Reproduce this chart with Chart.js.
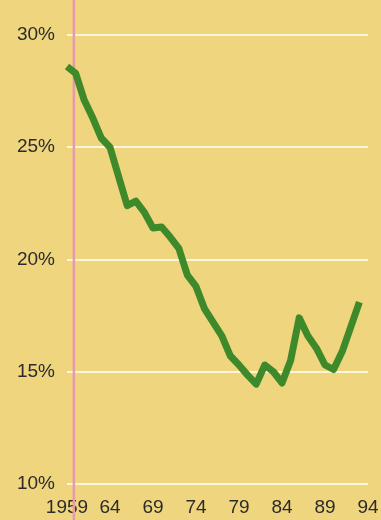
<!DOCTYPE html>
<html>
<head>
<meta charset="utf-8">
<script src="https://cdn.jsdelivr.net/npm/chart.js@4"></script>
<style>
  html,body{margin:0;padding:0;background:#EED57E;}
  #wrap{width:381px;height:520px;position:relative;}
</style>
</head>
<body>
<div id="wrap"><canvas id="c" width="381" height="520"></canvas></div>
<script>
const years = [1959,1960,1961,1962,1963,1964,1965,1966,1967,1968,1969,1970,1971,1972,1973,1974,1975,1976,1977,1978,1979,1980,1981,1982,1983,1984,1985,1986,1987,1988,1989,1990,1991,1992,1993];
const rates = [28.6,28.3,27.1,26.3,25.4,25.0,23.7,22.4,22.6,22.1,21.4,21.45,21.0,20.5,19.3,18.8,17.8,17.2,16.6,15.7,15.3,14.85,14.45,15.3,15.0,14.5,15.5,17.4,16.6,16.05,15.3,15.1,15.9,17.0,18.1];
const xTickYears = [1959,1964,1969,1974,1979,1984,1989,1994];
const xTickLabels = ['1959','64','69','74','79','84','89','94'];
const yTicks = [10,15,20,25,30];
const markerYear = 1959.8;

const markerLine = {
  id:'markerLine',
  beforeDatasetsDraw(chart){
    const ctx = chart.ctx, x = chart.scales.x.getPixelForValue(markerYear);
    ctx.save();
    ctx.strokeStyle = '#E99AA8';
    ctx.lineWidth = 2.5;
    ctx.beginPath();
    ctx.moveTo(x,0); ctx.lineTo(x,chart.height);
    ctx.stroke();
    ctx.restore();
  }
};

new Chart(document.getElementById('c'), {
  type:'line',
  data:{
    datasets:[{
      data: years.map((y,i)=>({x:y,y:rates[i]})),
      borderColor:'#3E8A2A',
      borderWidth:7,
      pointRadius:0,
      tension:0,
      borderJoinStyle:'round',
      borderCapStyle:'butt',
      clip:false
    }]
  },
  options:{
    responsive:false,
    animation:false,
    layout:{padding:{left:0,right:13,top:35,bottom:0}},
    plugins:{legend:{display:false},tooltip:{enabled:false}},
    scales:{
      x:{
        type:'linear',
        min:1959,max:1994,
        grid:{display:false,drawTicks:false},
        border:{display:false},
        afterBuildTicks(s){ s.ticks = xTickYears.map(v=>({value:v})); },
        afterFit(s){ s.height = 36; s.paddingLeft = 0; s.paddingRight = 0; },
        ticks:{
          autoSkip:false,
          maxRotation:0,
          padding:12,
          color:'#2b2b2b',
          font:{family:'"Liberation Sans", Arial, sans-serif',size:19},
          callback:(v)=>{const i=xTickYears.indexOf(v);return i>=0?xTickLabels[i]:'';}
        }
      },
      y:{
        min:10,max:30,
        afterBuildTicks(s){ s.ticks = yTicks.map(v=>({value:v})); },
        afterFit(s){ s.width = 67; s.paddingTop = 0; s.paddingBottom = 0; },
        grid:{color:'#FFF6DA',lineWidth:2,drawTicks:false},
        border:{display:false},
        ticks:{
          padding:12,
          color:'#2b2b2b',
          font:{family:'"Liberation Sans", Arial, sans-serif',size:19},
          callback:(v)=>v+'%'
        }
      }
    }
  },
  plugins:[markerLine]
});
</script>
</body>
</html>
